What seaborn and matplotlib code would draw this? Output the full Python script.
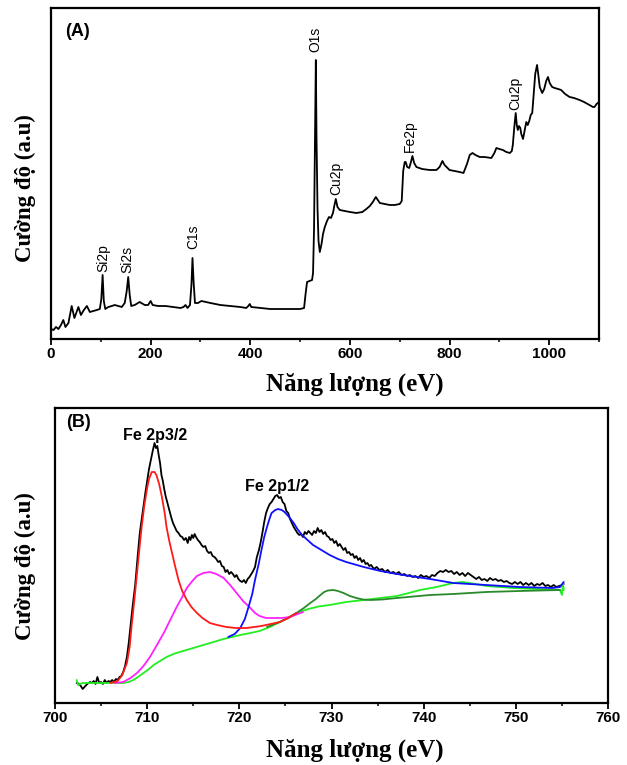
import numpy as np
import pandas as pd
import matplotlib
matplotlib.use("Agg")
import matplotlib.pyplot as plt
from matplotlib.ticker import MultipleLocator
import seaborn as sns

# ---------------- Panel A: survey spectrum ----------------
survey_ev = [0, 5, 10, 15, 20, 24.7, 29, 35, 41.5, 47, 55, 60, 66, 72, 78, 85, 92, 98,
             101, 103.6, 106, 109, 115, 122, 128, 135, 142, 148, 152, 155, 158, 161, 168,
             178, 188, 195, 200, 204, 215, 230, 245, 260, 266, 270, 274, 279, 282, 284,
             286.5, 289, 295, 302, 320, 340, 360, 380, 392, 396, 399, 402, 420, 440, 460,
             480, 500, 508, 511, 514, 519, 524, 526, 528, 530, 531.6, 533, 535, 537, 539.6,
             543, 546, 549.6, 554, 558, 562, 566, 569, 571.7, 575, 579.7, 590, 600, 613,
             625, 633, 640, 646, 652, 656, 660, 670, 680, 690, 700, 704, 707, 710, 712,
             715, 719, 722, 725.5, 729, 733.5, 745, 760, 773.7, 780, 785.7, 790, 800, 810,
             820, 828, 835, 840.5, 846, 852, 860.5, 870, 884, 890, 894, 900, 907, 914, 921,
             925, 927, 930, 932.8, 935, 937, 939.4, 942, 944, 947.5, 951, 954, 957, 960,
             963, 966, 969, 972, 975.6, 978, 981, 986, 990, 994, 997.6, 1001, 1006, 1011,
             1018, 1024, 1032, 1041, 1050, 1061, 1070, 1081, 1088, 1091, 1095, 1100]
survey_int = [10, 9, 12, 10, 14, 19, 12, 16, 33, 21, 32, 24, 29, 33, 27, 28, 29, 30,
              40, 64, 38, 30, 32, 33, 34, 33, 32, 36, 48, 62, 44, 33, 34,
              37, 34, 34, 38, 34, 33, 33, 32, 31, 32, 34, 31, 34, 55, 81,
              55, 36, 36, 38, 36, 34, 33, 32, 31, 33, 35, 32, 31, 30, 30,
              30, 30, 31, 45, 57, 58, 59, 66, 110, 200, 279, 200, 130, 98, 87,
              95, 105, 112, 118, 122, 121, 126, 134, 140, 132, 129, 128, 127, 126,
              127, 130, 133, 137, 142, 139, 136, 135, 134, 134, 135, 138, 168, 177, 177,
              172, 171, 176, 183, 176, 172, 170, 169, 169, 172, 178, 174, 169, 168,
              167, 166, 175, 184, 186, 184, 182, 182, 181, 186, 191, 190, 189, 187, 186,
              188, 194, 212, 226, 214, 209, 213, 211, 205, 200, 209, 217, 214, 218,
              224, 226, 245, 265, 274, 265, 252, 246, 250, 258, 262, 256, 252, 251,
              250, 249, 245, 242, 241, 239, 237, 234, 232, 232, 235, 237]
peak_names = ["Si2p", "Si2s", "C1s", "O1s", "Cu2p", "Fe2p", "Cu2p"]
peak_pos = [106, 154, 286, 531.6, 573, 720, 931]
peak_lab_y = [67, 66, 90, 287, 144, 187, 229]
xticks_a = [0, 200, 400, 600, 800, 1000]

# ---------------- Panel B: Fe 2p high resolution ----------------
fe_ev = [702.35, 702.6, 702.8, 703.0, 703.2, 703.5, 703.8, 704.0, 704.2, 704.4, 704.6, 704.8,
         705.0, 705.2, 705.4, 705.6, 705.8, 706.0, 706.2, 706.4, 706.6, 706.8, 707.0, 707.2,
         707.4, 707.6, 707.8, 708.0, 708.2, 708.4, 708.7, 709.0, 709.2, 709.5, 709.8, 710.0,
         710.2, 710.4, 710.6, 710.8, 710.95, 711.1, 711.25, 711.4, 711.55, 711.7, 711.85, 712.0,
         712.2, 712.4, 712.6, 712.8, 713.0, 713.2, 713.4, 713.6, 713.8, 714.0, 714.2, 714.4,
         714.55, 714.7, 714.85, 715.0, 715.15, 715.3, 715.5, 715.7, 715.9, 716.1, 716.3, 716.5,
         716.7, 716.9, 717.1, 717.3, 717.5, 717.7, 717.9, 718.1, 718.3, 718.5, 718.7, 718.9,
         719.1, 719.3, 719.5, 719.7, 719.9, 720.1, 720.3, 720.5, 720.7, 720.9, 721.1, 721.3,
         721.5, 721.7, 721.9, 722.1, 722.3, 722.5, 722.7, 722.9, 723.1, 723.3, 723.5, 723.7,
         723.9, 724.1, 724.3, 724.5, 724.7, 724.9, 725.1, 725.3, 725.5, 725.7, 725.9, 726.1,
         726.3, 726.5, 726.7, 726.9, 727.1, 727.3, 727.5, 727.7, 727.9, 728.1, 728.3, 728.5,
         728.7, 728.9, 729.1, 729.3, 729.5, 729.7, 729.9, 730.1, 730.3, 730.5, 730.7, 730.9,
         731.1, 731.3, 731.5, 731.7, 731.9, 732.1, 732.3, 732.5, 732.7, 732.9, 733.1, 733.3,
         733.5, 733.7, 733.9, 734.1, 734.3, 734.6, 734.9, 735.2, 735.5, 735.8, 736.1, 736.4,
         736.7, 737.0, 737.3, 737.6, 737.9, 738.2, 738.5, 738.8, 739.1, 739.4, 739.7, 740.0,
         740.3, 740.6, 740.9, 741.2, 741.5, 741.8, 742.1, 742.4, 742.7, 743.0, 743.3, 743.6,
         743.9, 744.2, 744.5, 744.8, 745.1, 745.4, 745.7, 746.0, 746.3, 746.6, 746.9, 747.2,
         747.5, 747.8, 748.1, 748.4, 748.7, 749.0, 749.3, 749.6, 749.9, 750.2, 750.5, 750.8,
         751.1, 751.4, 751.7, 752.0, 752.3, 752.6, 752.9, 753.2, 753.5, 753.8, 754.1, 754.4,
         754.7, 755.0, 755.2]
fe_int = [20, 19, 17, 14, 16, 19, 21, 20, 22, 19, 26, 20,
          21, 19, 23, 20, 22, 21, 23, 21, 24, 23, 26, 27,
          31, 37, 46, 60, 78, 95, 118, 150, 170, 190, 210, 222,
          234, 243, 252, 260, 255, 257, 248, 240, 228, 222, 214, 207,
          200, 193, 186, 180, 176, 172, 170, 167, 166, 163, 165, 160,
          166, 163, 168, 165, 169, 166, 163, 161, 158, 156, 157, 152,
          150, 151, 147, 146, 144, 141, 142, 137, 136, 131, 133, 129,
          131, 129, 126, 128, 124, 122, 121, 123, 120, 124, 126, 129,
          132, 136, 146, 152, 160, 170, 181, 190, 195, 199, 201, 204,
          207, 208, 205, 206, 201, 199, 192, 190, 184, 180, 176, 173,
          170, 168, 169, 166, 171, 169, 172, 170, 168, 172, 170, 175,
          171, 173, 169, 171, 167, 166, 163, 164, 160, 162, 157, 159,
          156, 153, 155, 150, 151, 148, 149, 145, 147, 143, 145, 141,
          143, 139, 140, 137, 138, 134, 136, 133, 134, 131, 133, 130,
          131, 129, 131, 128, 129, 127, 128, 126, 127, 125, 128, 126,
          127, 125, 128, 127, 130, 132, 131, 133, 131, 132, 129, 131,
          128, 130, 127, 130, 128, 126, 124, 126, 123, 124, 122, 125,
          123, 124, 122, 123, 121, 122, 120, 119, 121, 119, 121, 118,
          120, 118, 120, 117, 119, 118, 120, 117, 118, 116, 118, 116,
          117, 118, 119]

red_ev = [706.0, 706.8, 707.3, 707.8, 708.1, 708.3, 708.6, 708.9, 709.2, 709.4, 709.7, 710.0,
          710.2, 710.5, 710.8, 711.0, 711.3, 711.6, 711.9, 712.1, 712.4, 712.7, 713.0, 713.4,
          713.8, 714.3, 714.8, 715.4, 716.0, 716.8, 717.6, 718.6, 719.6, 720.8, 721.6, 722.4,
          723.4, 724.4, 725.3, 726.2]
red_int = [20, 22, 28, 40, 56, 76, 102, 130, 158, 176, 198, 215,
           224, 231, 231, 228, 219, 206, 190, 176, 162, 150, 138, 123,
           112, 103, 96, 90, 85, 80, 78, 76, 75, 75, 76, 77,
           79, 81, 85, 90]

pink_ev = [706.5, 707.4, 708.2, 708.9, 709.6, 710.3, 711.0, 711.8, 712.5, 713.2, 713.8, 714.3,
           714.9, 715.4, 716.1, 716.8, 717.5, 718.3, 719.0, 719.7, 720.4, 721.2, 721.7, 722.2,
           722.9, 723.7, 724.6, 725.5, 726.9]
pink_int = [20, 21, 25, 30, 37, 46, 57, 70, 83, 96, 106, 115,
            122, 127, 130, 131, 129, 125, 118, 110, 102, 95, 90, 87,
            85, 85, 85, 86, 91]

blue_ev = [718.8, 719.5, 720.1, 720.6, 721.0, 721.4, 721.7, 722.1, 722.4, 722.7, 723.0, 723.3,
           723.5, 723.9, 724.2, 724.6, 724.9, 725.4, 725.9, 726.3, 726.8, 727.4, 728.0, 728.9,
           729.8, 730.7, 731.6, 733.5, 735.3, 737.1, 739.2, 740.7, 743.2, 746.8, 750.4, 754.0,
           754.8, 755.2]
blue_int = [66, 69, 75, 84, 96, 109, 123, 139, 153, 166, 176, 185,
            190, 193, 194, 193, 191, 186, 180, 174, 168, 163, 158, 153,
            148, 144, 141, 136, 132, 129, 126, 124, 120, 118, 116, 115,
            116, 121]

dgreen_ev = [723.0, 724.4, 725.3, 726.2, 727.0, 727.7, 728.3, 728.8, 729.2, 729.6, 730.2, 730.7,
             731.3, 732.0, 732.7, 733.4, 734.2, 735.5, 737.1, 740.7, 743.2, 746.8, 750.4, 754.8]
dgreen_int = [76, 81, 85, 90, 95, 100, 104, 108, 111, 112.5, 113, 112,
              110, 107, 105, 103.5, 103, 103.5, 105, 108, 109, 111, 112, 113]

bg_ev = [702.35, 702.5, 703.0, 705.0, 706.5, 707.4, 708.0, 708.5, 709.0, 709.6, 710.2, 710.7,
         711.4, 712.1, 713.0, 713.9, 715.0, 716.1, 717.2, 718.3, 719.2, 720.1, 721.2, 722.2,
         723.3, 724.4, 725.3, 726.2, 727.5, 728.6, 729.8, 731.6, 733.5, 735.3, 737.1, 738.4,
         739.6, 741.4, 743.2, 744.2, 745.0, 746.8, 749.7, 752.3, 754.8, 755.0, 755.1, 755.2]
bg_int = [23, 18, 20, 20, 20, 20, 21, 23, 26, 30, 34, 38,
          42, 46, 49.5, 52, 55, 58, 61, 64, 66, 68, 70, 72,
          76, 81, 85.5, 90, 94, 96.5, 98, 101, 103, 105, 107, 110,
          113, 116, 120, 121, 120, 117, 115, 114, 113, 108, 120, 113]
xticks_b = [700, 710, 720, 730, 740, 750, 760]

# ---------------- Figure ----------------
sns.set_theme(style="ticks")
plt.rcParams["font.family"] = ["Liberation Sans", "DejaVu Sans"]
plt.rcParams["text.color"] = "black"
plt.rcParams["axes.labelcolor"] = "black"
plt.rcParams["xtick.color"] = "black"

serif_x = dict(family=["Liberation Serif", "DejaVu Serif"], weight="bold", size=18)
serif_y = dict(family=["Liberation Serif", "DejaVu Serif"], weight="bold", size=16.5)

fig = plt.figure(figsize=(6.27, 7.65), dpi=100)
axA = fig.add_axes([51 / 627, 1 - 339 / 765, 548 / 627, 331 / 765])
axB = fig.add_axes([55 / 627, 1 - 703 / 765, 553 / 627, 295 / 765])

sns.lineplot(x=survey_ev, y=survey_int, ax=axA, color="black", lw=1.3,
             estimator=None, sort=False)
for name, xp, yp in zip(peak_names, peak_pos, peak_lab_y):
    axA.text(xp, yp, name, rotation=90, ha="center", va="bottom", fontsize=10,
             family=["Liberation Sans", "DejaVu Sans"], color="black")
axA.text(0.025, 0.929, "(A)", transform=axA.transAxes, fontsize=13, weight="bold",
         va="center", ha="left", color="black")
axA.set_xlim(0, 1100)
axA.set_ylim(0, 331)
axA.set_xticks(xticks_a)
axA.xaxis.set_minor_locator(MultipleLocator(100))

series_b = [
    (fe_ev, fe_int, "black", 1.3),
    (bg_ev, bg_int, "#22ee22", 1.3),
    (dgreen_ev, dgreen_int, "#2a8a2a", 1.3),
    (pink_ev, pink_int, "#ff22ff", 1.3),
    (blue_ev, blue_int, "#1010ff", 1.3),
    (red_ev, red_int, "#ff1a1a", 1.3),
]
for xs, ys, col, lw in series_b:
    sns.lineplot(x=xs, y=ys, ax=axB, color=col, lw=lw, estimator=None, sort=False)
axB.text(710.85, 267, "Fe 2p3/2", ha="center", va="center", fontsize=11.5, weight="bold",
         color="black")
axB.text(724.05, 216, "Fe 2p1/2", ha="center", va="center", fontsize=11.5, weight="bold",
         color="black")
axB.text(0.021, 0.951, "(B)", transform=axB.transAxes, fontsize=13, weight="bold",
         va="center", ha="left", color="black")
axB.set_xlim(700, 760)
axB.set_ylim(0, 295)
axB.set_xticks(xticks_b)
axB.xaxis.set_minor_locator(MultipleLocator(5))

for ax, xl, yl in [(axA, (0.555, -0.136), (-0.047, 0.456)),
                   (axB, (0.542, -0.159), (-0.054, 0.464))]:
    ax.set_yticks([])
    ax.set_xlabel("Năng lượng (eV)", fontdict=serif_x)
    ax.set_ylabel("Cường độ (a.u)", fontdict=serif_y)
    ax.xaxis.label.set_va("center")
    ax.yaxis.label.set_va("center")
    ax.xaxis.set_label_coords(*xl)
    ax.yaxis.set_label_coords(*yl)
    ax.tick_params(axis="x", which="major", direction="out", length=4, width=1.3,
                   labelsize=11, pad=2, colors="black")
    ax.tick_params(axis="x", which="minor", direction="out", length=2.5, width=1.1,
                   colors="black")
    for lab in ax.get_xticklabels():
        lab.set_fontweight("bold")
    for sp in ax.spines.values():
        sp.set_visible(True)
        sp.set_linewidth(1.6)
        sp.set_color("black")
    if ax.get_legend():
        ax.get_legend().remove()

fig.savefig("out.png", dpi=100)
